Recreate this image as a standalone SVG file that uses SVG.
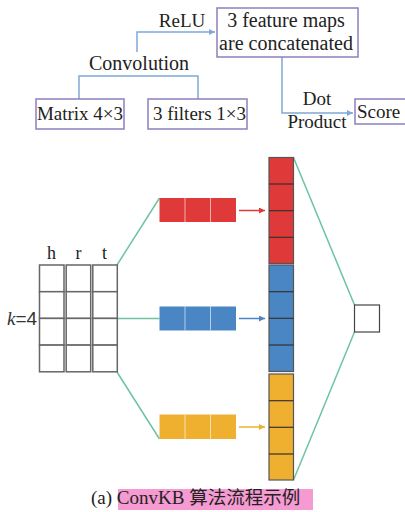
<svg xmlns="http://www.w3.org/2000/svg" width="405" height="512" viewBox="0 0 405 512">
<style>
.box{fill:#fff;stroke:#8f7fbf;stroke-width:1.5}
.t{font-family:"Liberation Serif","Times New Roman",serif;font-size:19px;fill:#222}
.conn{fill:none;stroke:#7fa9d8;stroke-width:1.5}
.grn{fill:none;stroke:#6cc4a0;stroke-width:1.5}
.cell{fill:#fff;stroke:#666;stroke-width:1.5}
.red{fill:#e0393a}
.blu{fill:#4a86c4}
.yel{fill:#efb030}
.sep{stroke:#fff;stroke-width:1;opacity:0.6}
.csep{stroke:#333;stroke-width:1.2}
.col{stroke:#555;stroke-width:1.2}
</style>
<defs>
<marker id="ab" viewBox="0 0 8 8" refX="8" refY="4" markerWidth="6" markerHeight="6" orient="auto" markerUnits="userSpaceOnUse"><path d="M0,0 L8,4 L0,8 z" fill="#7fa9d8"/></marker>
<marker id="ar" viewBox="0 0 8 8" refX="8" refY="4" markerWidth="6" markerHeight="6" orient="auto" markerUnits="userSpaceOnUse"><path d="M0,0 L8,4 L0,8 z" fill="#e0393a"/></marker>
<marker id="au" viewBox="0 0 8 8" refX="8" refY="4" markerWidth="6" markerHeight="6" orient="auto" markerUnits="userSpaceOnUse"><path d="M0,0 L8,4 L0,8 z" fill="#4a86c4"/></marker>
<marker id="ay" viewBox="0 0 8 8" refX="8" refY="4" markerWidth="6" markerHeight="6" orient="auto" markerUnits="userSpaceOnUse"><path d="M0,0 L8,4 L0,8 z" fill="#efb030"/></marker>
</defs>
<rect width="405" height="512" fill="#fff"/>

<g id="connectors">
<path class="conn" d="M79,99 V76 H198 V99"/>
<path class="conn" d="M137,52 V32 H215" marker-end="url(#ab)"/>
<path class="conn" d="M282,57 V113 H353" marker-end="url(#ab)"/>
<path class="grn" d="M117,265 L159.5,198"/>
<path class="grn" d="M117,318.5 H159.5"/>
<path class="grn" d="M117,372 L159.5,439"/>
<path class="grn" d="M293.5,157.5 L354.5,305"/>
<path class="grn" d="M293.5,480 L354.5,332"/>
<line x1="239" y1="210.5" x2="265" y2="210.5" stroke="#e0393a" stroke-width="1.5" marker-end="url(#ar)"/>
<line x1="239" y1="318.5" x2="265" y2="318.5" stroke="#4a86c4" stroke-width="1.5" marker-end="url(#au)"/>
<line x1="239" y1="427" x2="265" y2="427" stroke="#efb030" stroke-width="1.5" marker-end="url(#ay)"/>
</g>

<g id="labels">
<text class="t" x="182" y="27" text-anchor="middle">ReLU</text>
<text class="t" x="139" y="70" text-anchor="middle" style="font-size:20px">Convolution</text>
<text class="t" x="317" y="105" text-anchor="middle">Dot</text>
<text class="t" x="317" y="128" text-anchor="middle">Product</text>
</g>

<g id="concat">
<rect class="box" x="217" y="8" width="141" height="49"/>
<text class="t" x="286" y="27" text-anchor="middle" style="font-size:20px">3 feature maps</text>
<text class="t" x="286" y="50" text-anchor="middle" style="font-size:20px">are concatenated</text>
</g>
<g id="matrix-node">
<rect class="box" x="36" y="99" width="88" height="30"/>
<text class="t" x="80" y="120" text-anchor="middle">Matrix 4×3</text>
</g>
<g id="filters-node">
<rect class="box" x="148" y="99" width="99" height="30"/>
<text class="t" x="199.5" y="120" text-anchor="middle">3 filters 1×3</text>
</g>
<g id="score">
<rect class="box" x="355" y="99" width="52" height="25"/>
<text class="t" x="357" y="118">Score</text>
</g>

<g id="matrix">
<text class="t" x="51.5" y="259" text-anchor="middle" style="font-size:18px">h</text>
<text class="t" x="78.5" y="259" text-anchor="middle" style="font-size:18px">r</text>
<text class="t" x="104.5" y="259" text-anchor="middle" style="font-size:18px">t</text>
<text x="7" y="325" style="font-size:19px;fill:#333"><tspan style="font-family:'Liberation Serif',serif;font-style:italic">k</tspan><tspan style="font-family:'Liberation Sans',Arial,sans-serif">=4</tspan></text>
<g>
<rect class="cell" x="39.5" y="265" width="24.5" height="26.7"/>
<rect class="cell" x="39.5" y="291.7" width="24.5" height="26.7"/>
<rect class="cell" x="39.5" y="318.4" width="24.5" height="26.7"/>
<rect class="cell" x="39.5" y="345.1" width="24.5" height="26.7"/>
<rect class="cell" x="66.2" y="265" width="24.5" height="26.7"/>
<rect class="cell" x="66.2" y="291.7" width="24.5" height="26.7"/>
<rect class="cell" x="66.2" y="318.4" width="24.5" height="26.7"/>
<rect class="cell" x="66.2" y="345.1" width="24.5" height="26.7"/>
<rect class="cell" x="92.8" y="265" width="24.5" height="26.7"/>
<rect class="cell" x="92.8" y="291.7" width="24.5" height="26.7"/>
<rect class="cell" x="92.8" y="318.4" width="24.5" height="26.7"/>
<rect class="cell" x="92.8" y="345.1" width="24.5" height="26.7"/>
</g>
</g>

<g id="filter-red">
<rect class="red" x="159.5" y="198" width="76.5" height="24"/>
<line class="sep" x1="185" y1="198" x2="185" y2="222"/>
<line class="sep" x1="210.5" y1="198" x2="210.5" y2="222"/>
</g>
<g id="filter-blue">
<rect class="blu" x="159.5" y="306.5" width="76.5" height="24"/>
<line class="sep" x1="185" y1="306.5" x2="185" y2="330.5"/>
<line class="sep" x1="210.5" y1="306.5" x2="210.5" y2="330.5"/>
</g>
<g id="filter-yellow">
<rect class="yel" x="159.5" y="414.5" width="76.5" height="24.5"/>
<line class="sep" x1="185" y1="414.5" x2="185" y2="439"/>
<line class="sep" x1="210.5" y1="414.5" x2="210.5" y2="439"/>
</g>

<g id="feature-column">
<rect class="red col" x="269" y="157.5" width="24.5" height="106"/>
<line class="csep" x1="269" y1="184" x2="293.5" y2="184"/>
<line class="csep" x1="269" y1="210.7" x2="293.5" y2="210.7"/>
<line class="csep" x1="269" y1="237.3" x2="293.5" y2="237.3"/>
<rect class="blu col" x="269" y="265" width="24.5" height="106.5"/>
<line class="csep" x1="269" y1="291.7" x2="293.5" y2="291.7"/>
<line class="csep" x1="269" y1="318.3" x2="293.5" y2="318.3"/>
<line class="csep" x1="269" y1="345" x2="293.5" y2="345"/>
<rect class="yel col" x="269" y="374" width="24.5" height="106"/>
<line class="csep" x1="269" y1="400.7" x2="293.5" y2="400.7"/>
<line class="csep" x1="269" y1="427.3" x2="293.5" y2="427.3"/>
<line class="csep" x1="269" y1="454" x2="293.5" y2="454"/>
</g>

<g id="output">
<rect x="354.5" y="305" width="25" height="27" fill="#fff" stroke="#444" stroke-width="1.2"/>
</g>

<g id="caption">
<rect x="118" y="489" width="195" height="21" fill="#f59bd2"/>
<text x="91" y="504" style="font-family:'Liberation Serif','Noto Sans CJK SC',serif;font-size:19px;fill:#222">(a) ConvKB <tspan style="font-family:'Noto Sans CJK SC',sans-serif;font-size:18.5px">算法流程示例</tspan></text>
</g>
</svg>
